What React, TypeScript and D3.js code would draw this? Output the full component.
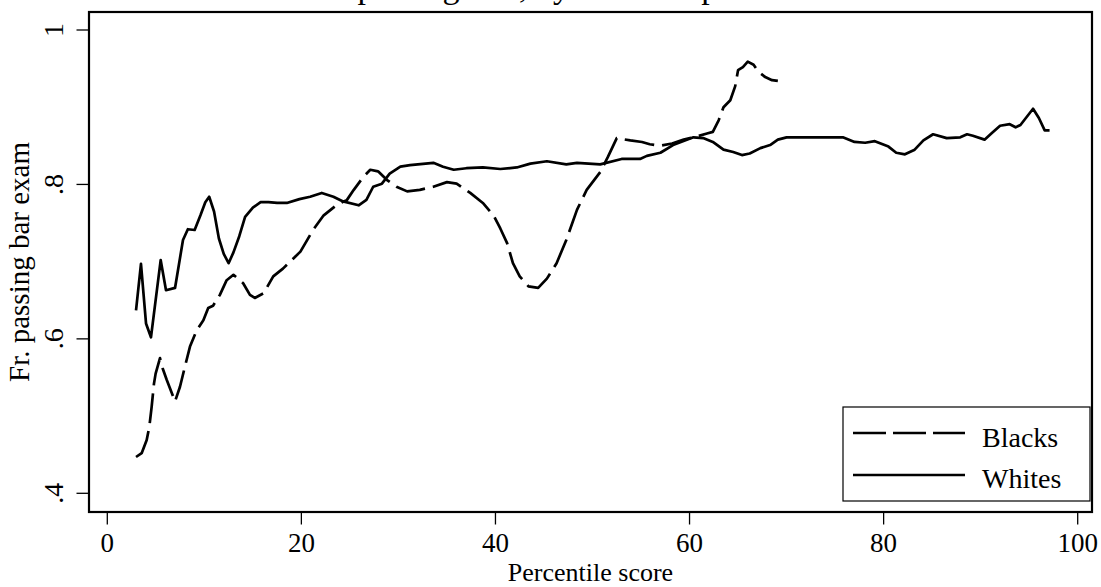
import React from "react";
import * as d3 from "d3";

const blacksX = [2.96,3.54,4.06,4.33,4.57,4.81,4.98,5.43,5.7,6.12,6.98,7.49,8.0,8.52,9.21,9.9,10.4,10.9,11.6,12.3,13.0,14.0,14.7,15.2,16.1,17.1,18.1,19.9,21.2,22.3,23.6,24.7,25.4,26.4,27.1,27.9,28.8,29.8,30.9,32.2,33.6,35.0,36.0,37.4,38.7,39.8,40.5,41.2,41.8,42.5,43.4,44.4,45.3,46.3,47.3,48.4,49.4,50.8,51.6,52.5,53.9,55.1,55.9,56.95,58.2,59.4,60.7,61.8,62.4,63.0,63.5,64.2,64.7,65.0,65.5,66.0,66.6,67.1,67.8,68.5,69.1];
const blacksY = [.447,.452,.469,.486,.512,.542,.555,.575,.562,.547,.519,.538,.564,.590,.611,.624,.640,.643,.657,.676,.683,.672,.657,.653,.659,.681,.691,.713,.741,.760,.773,.780,.793,.810,.819,.817,.806,.797,.791,.793,.797,.803,.801,.789,.776,.760,.743,.724,.698,.681,.668,.666,.678,.698,.728,.767,.793,.816,.836,.860,.857,.855,.852,.850,.853,.858,.862,.866,.868,.883,.900,.909,.927,.948,.952,.959,.955,.946,.939,.935,.934];

const whitesX = [2.96,3.47,3.99,4.5,5.5,6.05,6.98,7.8,8.3,9.0,9.6,10.1,10.5,11.0,11.5,12.0,12.5,13.0,13.6,14.2,15.0,15.8,16.6,17.5,18.5,19.8,20.9,22.1,23.3,24.3,25.9,26.7,27.4,28.3,29.1,30.2,31.2,33.6,34.6,35.7,37.0,38.7,40.5,42.2,43.6,45.3,47.3,48.4,50.8,53.0,54.9,55.6,57.0,58.3,60.4,61.4,62.4,63.5,64.5,65.4,66.2,67.3,68.3,69.1,70.0,72.4,74.8,75.8,77.0,78.1,79.1,80.5,81.3,82.2,83.2,84.1,85.1,86.5,87.9,88.6,89.2,90.4,91.1,92.0,93.0,93.6,94.1,95.4,96.0,96.6,97.1];
const whitesY = [.637,.697,.620,.602,.702,.663,.666,.728,.742,.741,.760,.777,.784,.765,.730,.710,.698,.712,.733,.758,.770,.777,.777,.776,.776,.781,.784,.789,.784,.778,.773,.780,.797,.801,.814,.823,.825,.828,.823,.819,.821,.822,.820,.822,.827,.830,.826,.828,.826,.833,.833,.837,.841,.851,.861,.860,.855,.845,.842,.838,.840,.847,.851,.858,.861,.861,.861,.861,.855,.854,.856,.849,.841,.839,.845,.857,.865,.860,.861,.865,.863,.858,.866,.876,.878,.874,.877,.898,.886,.870,.870];

const xTicks = [0, 20, 40, 60, 80, 100];
const yTicks = [0.4, 0.6, 0.8, 1];
const yTickLabels = [".4", ".6", ".8", "1"];
const seriesNames = ["Blacks", "Whites"];

const W = 1101, H = 587;
const frame = { left: 89, top: 12, right: 1092, bottom: 512 };
const FONT = "'Liberation Serif', 'Times New Roman', serif";

export default function App() {
  const x = d3.scaleLinear().domain([0, 100]).range([107.3, 1077.7]);
  const y = d3.scaleLinear().domain([0.4, 1]).range([493.3, 30]);
  const line = d3.line<[number, number]>().x(d => x(d[0])).y(d => y(d[1]));
  const blacks = blacksX.map((v, i) => [v, blacksY[i]] as [number, number]);
  const whites = whitesX.map((v, i) => [v, whitesY[i]] as [number, number]);
  const cy = (frame.top + frame.bottom) / 2;
  const cx = (frame.left + frame.right) / 2;

  return (
    <svg width={W} height={H} style={{ position: "absolute", left: 0, top: 0, background: "#fff" }} fontFamily={FONT}>
      <rect x={0} y={0} width={W} height={H} fill="#fff" />
      <text x={300} y={-2} fontSize={34} fill="#000">Bar passing rate, by race and percentile score</text>
      <path d={line(blacks) || ""} fill="none" stroke="#000" strokeWidth={2.7} strokeDasharray="30,8" strokeLinejoin="round" />
      <path d={line(whites) || ""} fill="none" stroke="#000" strokeWidth={2.7} strokeLinejoin="round" />
      <rect x={frame.left} y={frame.top} width={frame.right - frame.left} height={frame.bottom - frame.top} fill="none" stroke="#000" strokeWidth={2.2} />
      {yTicks.map((t, i) => (
        <g key={"y" + i}>
          <line x1={76.5} x2={frame.left} y1={y(t)} y2={y(t)} stroke="#000" strokeWidth={1.3} />
          <text transform={`translate(63,${y(t)}) rotate(-90)`} textAnchor="middle" fontSize={28}>{yTickLabels[i]}</text>
        </g>
      ))}
      {xTicks.map((t, i) => (
        <g key={"x" + i}>
          <line x1={x(t)} x2={x(t)} y1={frame.bottom} y2={524.5} stroke="#000" strokeWidth={1.3} />
          <text x={x(t)} y={552} textAnchor="middle" fontSize={27}>{t}</text>
        </g>
      ))}
      <text x={cx} y={581} textAnchor="middle" fontSize={26}>Percentile score</text>
      <text transform={`translate(29,${cy}) rotate(-90)`} textAnchor="middle" fontSize={29}>Fr. passing bar exam</text>
      <rect x={843} y={407} width={247} height={94} fill="#fff" stroke="#000" strokeWidth={1.2} />
      <line x1={853} x2={965} y1={433} y2={433} stroke="#000" strokeWidth={2.7} strokeDasharray="33,7" />
      <line x1={853} x2={965} y1={475} y2={475} stroke="#000" strokeWidth={2.7} />
      <text x={982} y={447} fontSize={28}>{seriesNames[0]}</text>
      <text x={982} y={488} fontSize={28}>{seriesNames[1]}</text>
    </svg>
  );
}
